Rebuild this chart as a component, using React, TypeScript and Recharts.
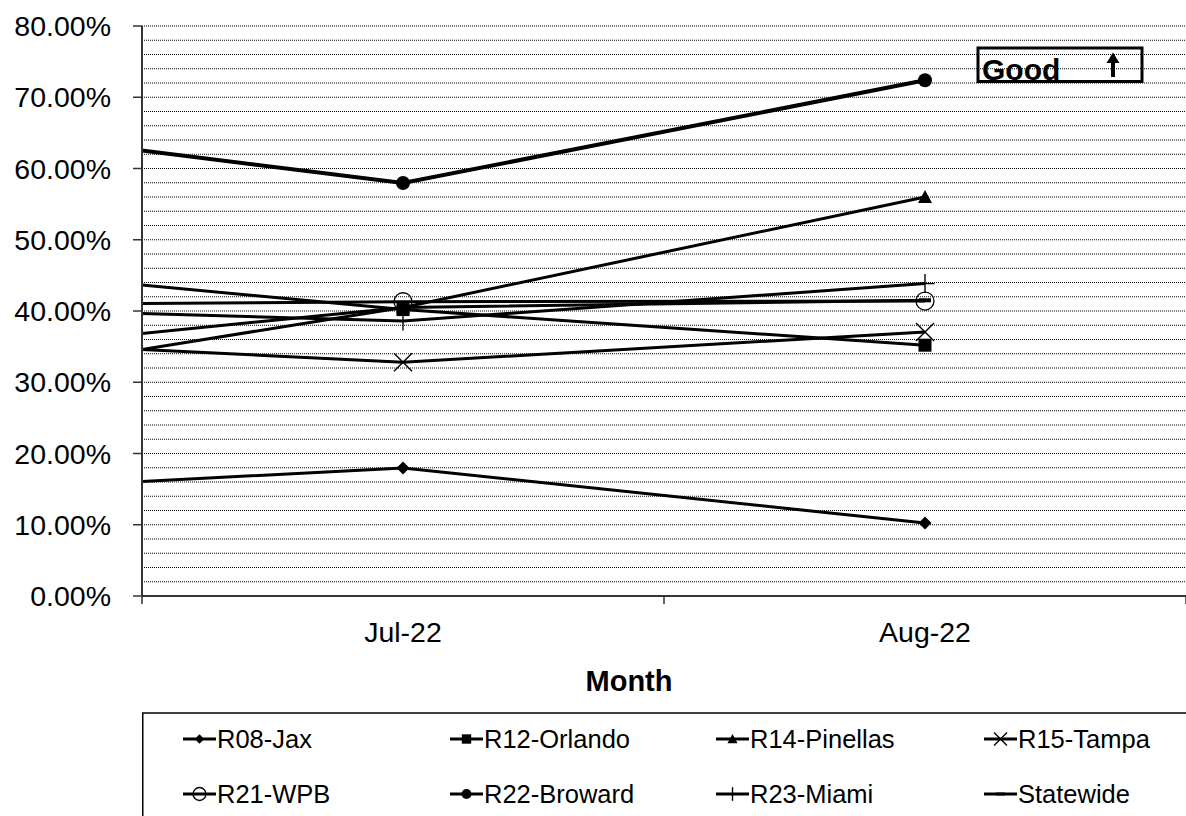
import React from 'react';
import { LineChart, Line, XAxis, YAxis, CartesianGrid } from 'recharts';

const FONT = '"Liberation Sans", Arial, Helvetica, sans-serif';

// Jun-22 sits just left of the plot: Excel clips it, but the lines still run toward it.
const months = ['Jun-22', 'Jul-22', 'Aug-22'];

const jax = [14.2, 17.96, 10.25];
const orlando = [47.1, 40.2, 35.2];
const pinellas = [28.7, 40.5, 56.0];
const tampa = [36.4, 32.8, 37.05];
const wpb = [40.8, 41.3, 41.4];
const broward = [67.1, 57.96, 72.38];
const miami = [40.7, 38.6, 43.85];
const statewide = [33.2, 40.5, 41.5];

const yTicks = Array.from({ length: 41 }, (_, i) => i * 2);
const xTicks = [0.5, 1, 1.5, 2, 2.5];

type Kind = 'diamond' | 'square' | 'triangle' | 'x' | 'ring' | 'dot' | 'plus' | 'dash';

const series: { key: string; name: string; values: number[]; kind: Kind; width: number }[] = [
  { key: 'jax', name: 'R08-Jax', values: jax, kind: 'diamond', width: 3 },
  { key: 'orlando', name: 'R12-Orlando', values: orlando, kind: 'square', width: 3 },
  { key: 'pinellas', name: 'R14-Pinellas', values: pinellas, kind: 'triangle', width: 3 },
  { key: 'tampa', name: 'R15-Tampa', values: tampa, kind: 'x', width: 3 },
  { key: 'wpb', name: 'R21-WPB', values: wpb, kind: 'ring', width: 3 },
  { key: 'broward', name: 'R22-Broward', values: broward, kind: 'dot', width: 4 },
  { key: 'miami', name: 'R23-Miami', values: miami, kind: 'plus', width: 3 },
  { key: 'statewide', name: 'Statewide', values: statewide, kind: 'dash', width: 3 },
];

const rows = months.map((m, i) => {
  const row: Record<string, number | string> = { month: m, idx: i };
  series.forEach((s) => {
    row[s.key] = s.values[i];
  });
  return row;
});

function Marker({ kind, cx, cy, s = 1 }: { kind: Kind; cx: number; cy: number; s?: number }) {
  switch (kind) {
    case 'diamond': {
      const r = 6.5 * s;
      return <polygon points={`${cx},${cy - r} ${cx + r},${cy} ${cx},${cy + r} ${cx - r},${cy}`} fill="#000" />;
    }
    case 'square': {
      const h = 6.5 * s;
      return <rect x={cx - h} y={cy - h} width={2 * h} height={2 * h} fill="#000" />;
    }
    case 'triangle': {
      const h = 7 * s;
      return <polygon points={`${cx},${cy - h} ${cx + h},${cy + h * 0.85} ${cx - h},${cy + h * 0.85}`} fill="#000" />;
    }
    case 'x': {
      const h = 9 * s;
      return (
        <g stroke="#000" strokeWidth={1.4}>
          <line x1={cx - h} y1={cy - h} x2={cx + h} y2={cy + h} />
          <line x1={cx - h} y1={cy + h} x2={cx + h} y2={cy - h} />
        </g>
      );
    }
    case 'ring':
      return <circle cx={cx} cy={cy} r={9 * s} fill="none" stroke="#000" strokeWidth={1.3} />;
    case 'dot':
      return <circle cx={cx} cy={cy} r={7 * s} fill="#000" />;
    case 'plus': {
      const h = 9.5 * s;
      return (
        <g stroke="#000" strokeWidth={1.4}>
          <line x1={cx - h} y1={cy} x2={cx + h} y2={cy} />
          <line x1={cx} y1={cy - h} x2={cx} y2={cy + h} />
        </g>
      );
    }
    case 'dash':
    default:
      return <rect x={cx - 6 * s} y={cy - 2 * s} width={12 * s} height={4 * s} fill="#000" />;
  }
}

function YTick(props: any) {
  const { x, y, payload } = props;
  const v = payload.value as number;
  if (v % 10 !== 0) return <g />;
  return (
    <g>
      <line x1={x - 9} x2={x} y1={y} y2={y} stroke="#333" strokeWidth={1.5} />
      <text x={x - 31} y={y} dy={10} textAnchor="end" fontSize={28.5} fontFamily={FONT} fill="#000">
        {v.toFixed(2)}%
      </text>
    </g>
  );
}

function XTick(props: any) {
  const { x, y, payload } = props;
  const v = payload.value as number;
  if (Number.isInteger(v)) {
    return (
      <text x={x} y={y} dy={46} textAnchor="middle" fontSize={28.5} fontFamily={FONT} fill="#000">
        {months[v]}
      </text>
    );
  }
  return <line x1={x} x2={x} y1={y} y2={y + 8} stroke="#333" strokeWidth={1.5} />;
}

const legendCols = [183, 450, 716, 984];
const legendRows = [739, 794];

export default function App() {
  return (
    <div style={{ position: 'absolute', left: 0, top: 0, width: 1186, height: 816, overflow: 'hidden', background: '#fff' }}>
      <LineChart width={1186} height={816} data={rows} margin={{ top: 26, right: 0, bottom: 0, left: 0 }}>
        <CartesianGrid vertical={false} stroke="#000" strokeDasharray="1 1" />
        <XAxis
          dataKey="idx"
          type="number"
          domain={[0.5, 2.5]}
          allowDataOverflow
          ticks={xTicks}
          interval={0}
          height={220}
          tickSize={0}
          tickMargin={0}
          tickLine={false}
          axisLine={{ stroke: '#333', strokeWidth: 2 }}
          tick={<XTick />}
        />
        <YAxis
          type="number"
          domain={[0, 80]}
          ticks={yTicks}
          interval={0}
          width={142}
          tickSize={0}
          tickMargin={0}
          tickLine={false}
          axisLine={{ stroke: '#333', strokeWidth: 2 }}
          tick={<YTick />}
        />
        {series.map((s) => (
          <Line
            key={s.key}
            dataKey={s.key}
            name={s.name}
            type="linear"
            stroke="#000"
            strokeWidth={s.width}
            isAnimationActive={false}
            activeDot={false}
            dot={(p: any) => <Marker key={`${s.key}-${p.index}`} kind={s.kind} cx={p.cx} cy={p.cy} />}
          />
        ))}
      </LineChart>
      <svg
        width={1186}
        height={816}
        style={{ position: 'absolute', left: 0, top: 0, pointerEvents: 'none' }}
      >
        <text x={629} y={690.7} textAnchor="middle" fontSize={29} fontWeight="bold" fontFamily={FONT} fill="#000">
          Month
        </text>

        <text x={982} y={80} fontSize={30} fontWeight="bold" fontFamily={FONT} fill="#000">
          Good
        </text>
        <rect x={978} y={48} width={164} height={33.5} fill="none" stroke="#000" strokeWidth={3} />
        <rect x={1111} y={62} width={4} height={15} fill="#000" />
        <polygon points="1113,52.5 1119.5,63 1106.5,63" fill="#000" />

        <rect x={142.75} y={713} width={1100} height={150} fill="none" stroke="#000" strokeWidth={1.5} />
        {series.map((s, i) => {
          const sx = legendCols[i % 4];
          const cy = legendRows[Math.floor(i / 4)];
          return (
            <g key={s.key}>
              <line x1={sx} x2={sx + 33} y1={cy} y2={cy} stroke="#000" strokeWidth={3} />
              <Marker kind={s.kind} cx={sx + 16.5} cy={cy} s={0.72} />
              <text x={sx + 34} y={cy + 9} fontSize={25.5} fontFamily={FONT} fill="#000">
                {s.name}
              </text>
            </g>
          );
        })}
      </svg>
    </div>
  );
}
